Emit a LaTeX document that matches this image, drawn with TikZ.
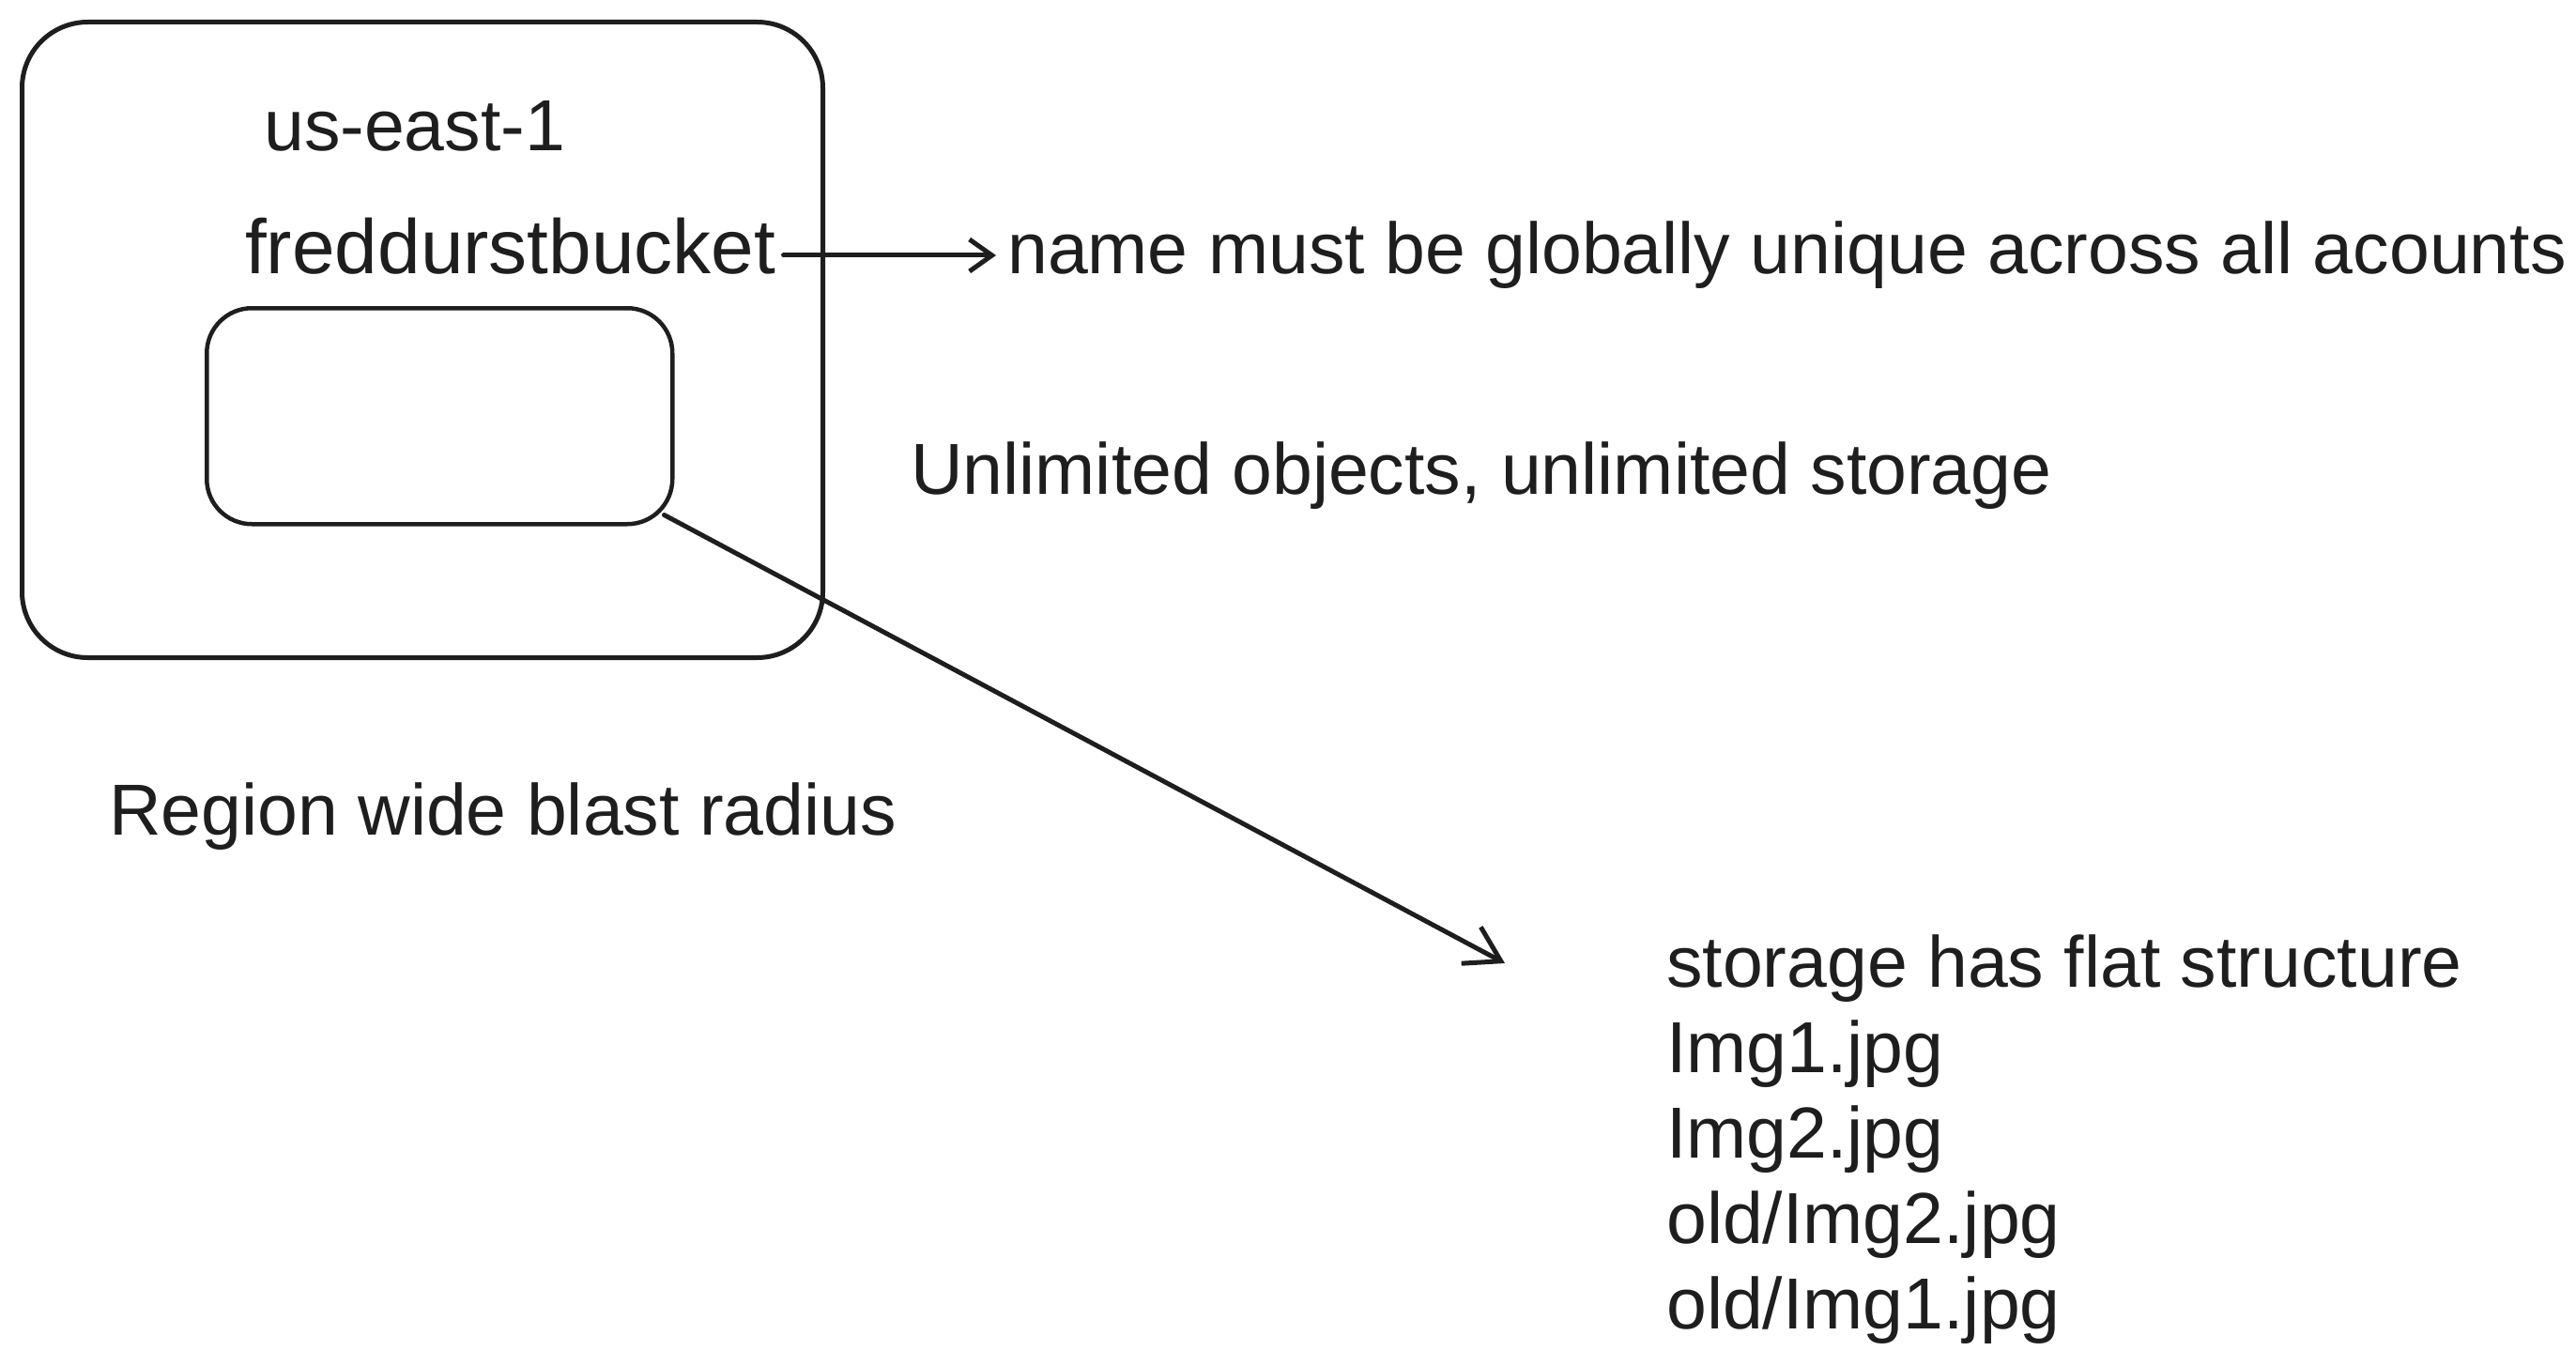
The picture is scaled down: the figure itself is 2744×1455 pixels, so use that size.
\documentclass[tikz,border=0pt]{standalone}
\usepackage{fontspec}
\setmainfont{Liberation Sans}
\usetikzlibrary{arrows.meta,calc}
\definecolor{ink}{HTML}{1E1E1E}
\begin{document}
\begin{tikzpicture}[x=1pt,y=-1pt,
  txt/.style={inner sep=0pt,anchor=base west,font=\fontsize{77}{91}\selectfont,text=ink},
  boxline/.style={draw=ink,line width=5pt},
  conn/.style={draw=ink,line width=5pt,line cap=round,-{Straight Barb[length=24pt,width=34pt,line width=5pt]}},
  diag/.style={draw=ink,line width=5pt,line cap=round,-{Straight Barb[length=36pt,width=44pt,line width=5pt]}}]
\useasboundingbox[fill=white] (0,0) rectangle (2744,1455);
% outer region box
\node[boxline,rounded corners=70pt,minimum width=853pt,minimum height=677pt,anchor=north west,inner sep=0pt] (region) at (21,21) {};
% inner bucket box
\node[boxline,line width=4.5pt,rounded corners=48pt,minimum width=496pt,minimum height=230pt,anchor=north west,inner sep=0pt] (bucket) at (218,326) {};
% texts
\node[txt] (reg) at (281,161) {us-east-1};
\node[txt,font=\fontsize{82}{91}\selectfont] (bname) at (261,291) {freddurstbucket};
\node[txt] (uniq) at (1073,291) {name must be globally unique across all acounts};
\node[txt] (unl) at (970,526) {Unlimited objects, unlimited storage};
\node[txt] (blast) at (116,889) {Region wide blast radius};
\node[txt,align=left,anchor=north west] (list) at (1775,995) {storage has flat structure\\Img1.jpg\\Img2.jpg\\old/Img2.jpg\\old/Img1.jpg};
% connectors
\draw[conn] ($(bname.base east)+(8,-19)$) -- ($(uniq.base west)+(-12,-19)$);
\coordinate (dstart) at ($(bucket.south east)+(-11,-12)$);
\coordinate (dend) at (1603,1026);
\draw[diag] (dstart) -- (dend);
\end{tikzpicture}
\end{document}
